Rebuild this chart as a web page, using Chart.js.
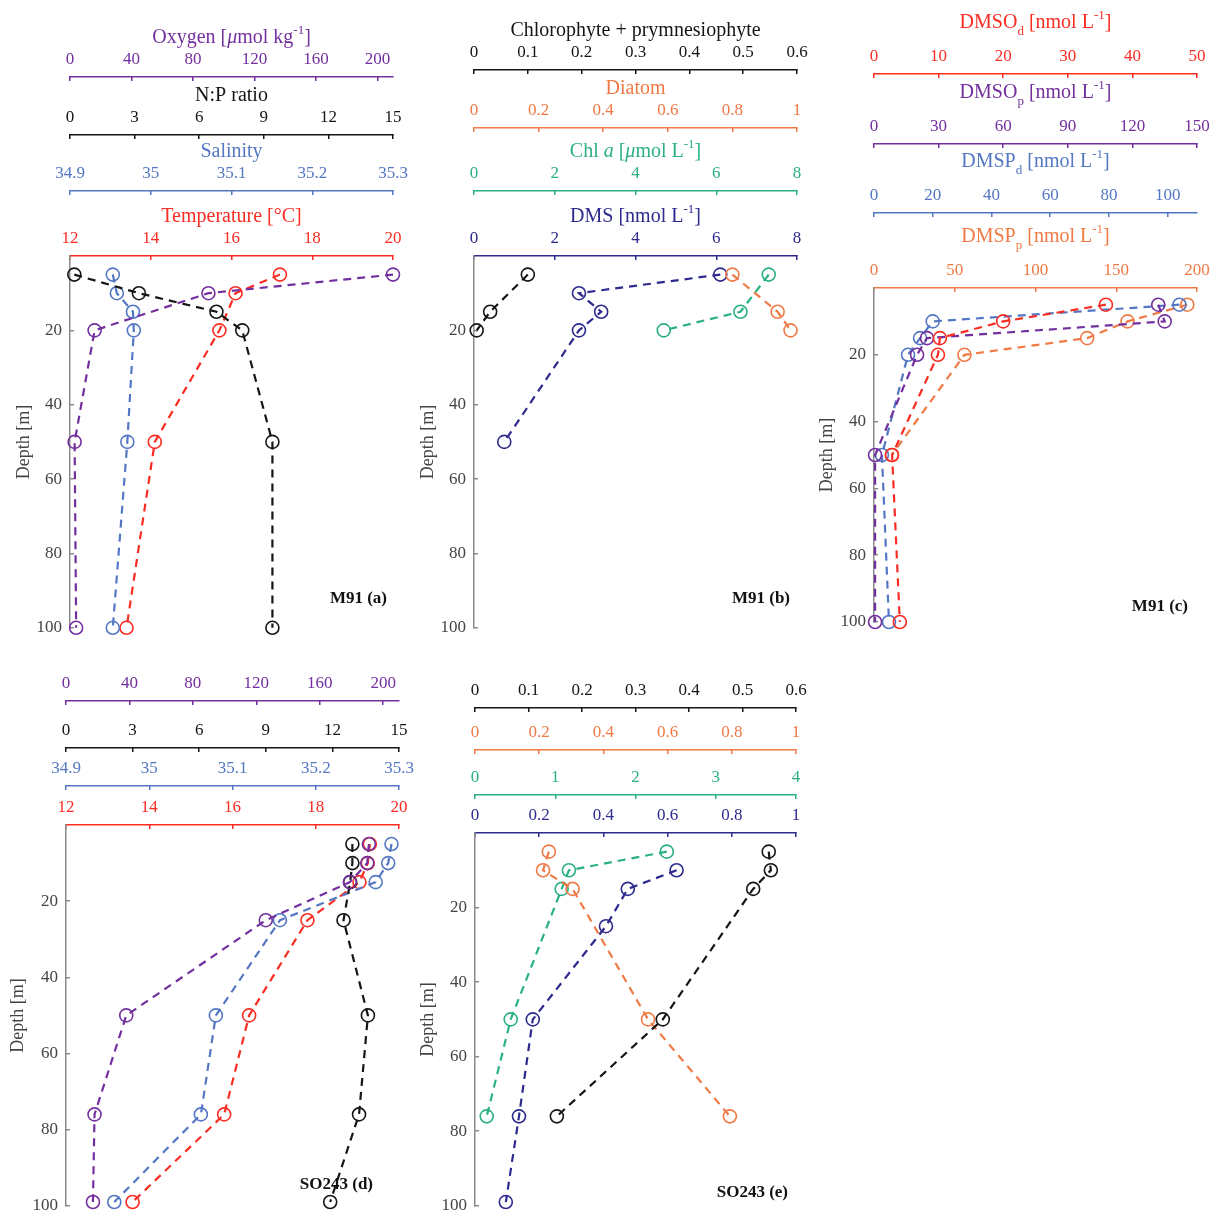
<!DOCTYPE html>
<html>
<head>
<meta charset="utf-8">
<script src="https://cdn.jsdelivr.net/npm/chart.js@4"></script>
<style>
html, body { margin: 0; padding: 0; background: #fff; }
#wrap { position: relative; width: 1227px; height: 1228px; overflow: hidden; }
canvas { position: absolute; }
</style>
</head>
<body>
<div id="wrap">
	<canvas id="pa" width="420" height="650" style="left:0;top:0"></canvas>
	<canvas id="pb" width="418" height="650" style="left:404px;top:0"></canvas>
	<canvas id="pc" width="421" height="650" style="left:804px;top:0"></canvas>
	<canvas id="pd" width="427" height="568" style="left:0;top:660px"></canvas>
	<canvas id="pe" width="416" height="568" style="left:405px;top:660px"></canvas>
</div>
<script>
// ---- data ----
const depthTicks = [20, 40, 60, 80, 100];

// M91 (a)
const depthA = [5, 10, 15, 20, 50, 100];
const depthA5 = [5, 10, 20, 50, 100];
const oxygenA = [210, 90, 16, 3, 4];
const npRatioA = [0.2, 3.2, 6.8, 8.0, 9.4, 9.4];
const salinityA = [34.953, 34.958, 34.978, 34.979, 34.971, 34.953];
const temperatureA = [17.2, 16.1, 15.7, 14.1, 13.4];

// M91 (b)
const depthB = [5, 15, 20];
const depthBdms = [5, 10, 15, 20, 50];
const chloroB = [0.10, 0.03, 0.005];
const diatomB = [0.80, 0.94, 0.98];
const chlaB = [7.3, 6.6, 4.7];
const dmsB = [6.1, 2.6, 3.15, 2.6, 0.75];

// M91 (c)
const depthC = [5, 10, 15, 20, 50, 100];
const depthCp = [5, 10, 15, 20, 50];
const dmsodC = [35.9, 20.0, 10.2, 9.9, 2.8, 4.0];
const dmsopC = [132, 135, 24.6, 20, 0.5, 0.5];
const dmspdC = [104, 20, 15.7, 11.6, 2.7, 5.1];
const dmsppC = [194, 157, 132, 56, 11];

// SO243 (d)
const depthD = [5, 10, 15, 25, 50, 76, 99];
const oxygenD = [191, 190, 179, 126, 38, 18, 17];
const npRatioD = [12.9, 12.9, 12.8, 12.5, 13.6, 13.2, 11.9];
const salinityD = [35.291, 35.287, 35.272, 35.157, 35.080, 35.062, 34.958];
const temperatureD = [19.3, 19.25, 19.05, 17.8, 16.4, 15.8, 13.6];

// SO243 (e)
const depthE = [5, 10, 15, 50, 76];
const depthEdms = [10, 15, 25, 50, 76, 99];
const chloroE = [0.549, 0.553, 0.52, 0.351, 0.153];
const diatomE = [0.23, 0.212, 0.304, 0.539, 0.794];
const chlaE = [2.39, 1.17, 1.08, 0.445, 0.146];
const dmsE = [0.628, 0.476, 0.408, 0.18, 0.137, 0.096];

// tick labels
const oxygenTicks = [0, 40, 80, 120, 160, 200];
const npTicks = [0, 3, 6, 9, 12, 15];
const salinityTicks = [34.9, 35, 35.1, 35.2, 35.3];
const temperatureTicks = [12, 14, 16, 18, 20];
const chloroTicks = [0, 0.1, 0.2, 0.3, 0.4, 0.5, 0.6];
const diatomTicks = [0, 0.2, 0.4, 0.6, 0.8, 1];
const chlaTicksB = [0, 2, 4, 6, 8];
const dmsTicksB = [0, 2, 4, 6, 8];
const chlaTicksE = [0, 1, 2, 3, 4];
const dmsTicksE = [0, 0.2, 0.4, 0.6, 0.8, 1];
const dmsodTicks = [0, 10, 20, 30, 40, 50];
const dmsopTicks = [0, 30, 60, 90, 120, 150];
const dmspdTicks = [0, 20, 40, 60, 80, 100];
const dmsppTicks = [0, 50, 100, 150, 200];

// ---- drawing ----
const serif = '"Liberation Serif", "Times New Roman", serif';
const purple = '#732f9e', black = '#151515', blue = '#5477c4', red = '#fa2d23',
	orange = '#ef7a45', green = '#2bb085', navy = '#2d2a8e', grey = '#8a8a8a';

function drawRich(ctx, str, cx, cy, size, color) {
	const parts = [];
	str.replace(/([\^_*])\{([^}]*)\}|([^\^_*]+)/g, (m, k, inner, plain) => {
		parts.push(plain !== undefined ? {t: plain, k: ''} : {t: inner, k: k});
		return m;
	});
	const fontOf = p => (p.k === '*' ? 'italic ' : '') +
		Math.round(p.k === '^' || p.k === '_' ? size * 0.65 : size) + 'px ' + serif;
	let w = 0;
	parts.forEach(p => { ctx.font = fontOf(p); w += ctx.measureText(p.t).width; });
	let x = cx - w / 2;
	ctx.fillStyle = color;
	ctx.textAlign = 'left';
	ctx.textBaseline = 'middle';
	parts.forEach(p => {
		ctx.font = fontOf(p);
		const dy = p.k === '^' ? -size * 0.36 : p.k === '_' ? size * 0.42 : 0;
		ctx.fillText(p.t, x, cy + dy);
		x += ctx.measureText(p.t).width;
	});
}

function topAxis(a, h, weight) {
	return {
		type: 'linear', position: 'top', min: a.min, max: a.max, weight: weight,
		afterBuildTicks: s => { s.ticks = a.ticks.map(v => ({value: v})); },
		afterFit: s => { s.height = h; },
		border: {color: a.color, width: 1.5},
		grid: {drawOnChartArea: false, color: a.color, lineWidth: 1.5, tickLength: -4},
		ticks: {
			color: a.color, font: {family: serif, size: 17}, padding: 11,
			maxRotation: 0, autoSkip: false,
			callback: v => String(+v.toFixed(3)),
		},
		title: {display: false},
	};
}

function depthAxis(w, pad) {
	return {
		type: 'linear', position: 'left', reverse: true, min: 0, max: 100,
		afterBuildTicks: s => { s.ticks = depthTicks.map(v => ({value: v})); },
		afterFit: s => { s.width = w; },
		border: {color: grey, width: 1.5},
		grid: {drawOnChartArea: false, color: grey, lineWidth: 1.5, tickLength: -4},
		ticks: {color: '#444', font: {family: serif, size: 17}, padding: 12, callback: v => v},
		title: {
			display: true, text: 'Depth [m]', color: '#444',
			font: {family: serif, size: 18}, padding: {top: pad, bottom: 0},
		},
	};
}

function series(xs, ys, color, axis) {
	return {
		data: xs.map((v, i) => ({x: v, y: ys[i]})),
		xAxisID: axis, yAxisID: 'y',
		showLine: true, borderColor: color, borderWidth: 2.2, borderDash: [8, 6],
		pointRadius: 6.5, pointBorderWidth: 1.6, pointBorderColor: color,
		pointBackgroundColor: 'rgba(0,0,0,0)', backgroundColor: 'rgba(0,0,0,0)',
		clip: false,
	};
}

function makeChart(id, cfg) {
	const scales = {};
	cfg.axes.forEach((a, i) => {
		scales[a.id] = topAxis(a, cfg.heights[i], cfg.axes.length - i);
	});
	scales.y = depthAxis(cfg.yWidth, cfg.yPad);

	const textPlugin = {
		id: 'panelText',
		afterDraw(chart) {
			const ctx = chart.ctx;
			ctx.save();
			cfg.axes.forEach(a => {
				if (!a.title) return;
				const s = chart.scales[a.id];
				drawRich(ctx, a.title, (s.left + s.right) / 2, s.bottom - cfg.dTitle, 20, a.color);
			});
			const area = chart.chartArea;
			ctx.font = 'bold 17px ' + serif;
			ctx.fillStyle = '#111';
			ctx.textAlign = 'right';
			ctx.textBaseline = 'middle';
			ctx.fillText(cfg.label, area.right - cfg.labelDx, area.bottom - cfg.labelDy);
			ctx.restore();
		},
	};

	new Chart(document.getElementById(id), {
		type: 'scatter',
		data: {datasets: cfg.series.map(s => series(s[0], s[1], s[2], s[3]))},
		options: {
			responsive: false,
			animation: false,
			layout: {padding: {left: 0, top: 0, right: cfg.padR, bottom: cfg.padB}},
			plugins: {legend: {display: false}, tooltip: {enabled: false}},
			scales: scales,
		},
		plugins: [textPlugin],
	});
}

window.addEventListener('load', e => {
	makeChart('pa', {
		axes: [
			{id: 'oxy', min: 0, max: 210, ticks: oxygenTicks, color: purple, title: 'Oxygen [*{μ}mol kg^{-1}]'},
			{id: 'np', min: 0, max: 15, ticks: npTicks, color: black, title: 'N:P ratio'},
			{id: 'sal', min: 34.9, max: 35.3, ticks: salinityTicks, color: blue, title: 'Salinity'},
			{id: 'temp', min: 12, max: 20, ticks: temperatureTicks, color: red, title: 'Temperature [°C]'},
		],
		heights: [77, 58, 56, 65], dTitle: 39.5,
		series: [
			[oxygenA, depthA5, purple, 'oxy'],
			[npRatioA, depthA, black, 'np'],
			[salinityA, depthA, blue, 'sal'],
			[temperatureA, depthA5, red, 'temp'],
		],
		yWidth: 70, yPad: 13, padR: 27, padB: 14,
		label: 'M91 (a)', labelDx: 6, labelDy: 29,
	});

	makeChart('pb', {
		axes: [
			{id: 'chl', min: 0, max: 0.6, ticks: chloroTicks, color: black, title: 'Chlorophyte + prymnesiophyte'},
			{id: 'dia', min: 0, max: 1, ticks: diatomTicks, color: orange, title: 'Diatom'},
			{id: 'cha', min: 0, max: 8, ticks: chlaTicksB, color: green, title: 'Chl *{a} [*{μ}mol L^{-1}]'},
			{id: 'dms', min: 0, max: 8, ticks: dmsTicksB, color: navy, title: 'DMS [nmol L^{-1}]'},
		],
		heights: [70, 58, 63, 65], dTitle: 39.5,
		series: [
			[chloroB, depthB, black, 'chl'],
			[diatomB, depthB, orange, 'dia'],
			[chlaB, depthB, green, 'cha'],
			[dmsB, depthBdms, navy, 'dms'],
		],
		yWidth: 70, yPad: 13, padR: 25, padB: 14,
		label: 'M91 (b)', labelDx: 7, labelDy: 29,
	});

	makeChart('pc', {
		axes: [
			{id: 'sod', min: 0, max: 50, ticks: dmsodTicks, color: red, title: 'DMSO_{d} [nmol L^{-1}]'},
			{id: 'sop', min: 0, max: 150, ticks: dmsopTicks, color: purple, title: 'DMSO_{p} [nmol L^{-1}]'},
			{id: 'spd', min: 0, max: 110, ticks: dmspdTicks, color: blue, title: 'DMSP_{d} [nmol L^{-1}]'},
			{id: 'spp', min: 0, max: 200, ticks: dmsppTicks, color: orange, title: 'DMSP_{p} [nmol L^{-1}]'},
		],
		heights: [74, 70, 69, 75], dTitle: 51,
		series: [
			[dmsodC, depthC, red, 'sod'],
			[dmsopC, depthC, purple, 'sop'],
			[dmspdC, depthC, blue, 'spd'],
			[dmsppC, depthCp, orange, 'spp'],
		],
		yWidth: 70, yPad: 12, padR: 28, padB: 28,
		label: 'M91 (c)', labelDx: 9, labelDy: 15,
	});

	makeChart('pd', {
		axes: [
			{id: 'oxy', min: 0, max: 210, ticks: oxygenTicks, color: purple},
			{id: 'np', min: 0, max: 15, ticks: npTicks, color: black},
			{id: 'sal', min: 34.9, max: 35.3, ticks: salinityTicks, color: blue},
			{id: 'temp', min: 12, max: 20, ticks: temperatureTicks, color: red},
		],
		heights: [41, 47, 38, 39], dTitle: 39.5,
		series: [
			[oxygenD, depthD, purple, 'oxy'],
			[npRatioD, depthD, black, 'np'],
			[salinityD, depthD, blue, 'sal'],
			[temperatureD, depthD, red, 'temp'],
		],
		yWidth: 66, yPad: 7, padR: 28, padB: 11,
		label: 'SO243 (d)', labelDx: 26, labelDy: 21,
	});

	makeChart('pe', {
		axes: [
			{id: 'chl', min: 0, max: 0.6, ticks: chloroTicks, color: black},
			{id: 'dia', min: 0, max: 1, ticks: diatomTicks, color: orange},
			{id: 'cha', min: 0, max: 4, ticks: chlaTicksE, color: green},
			{id: 'dms', min: 0, max: 1, ticks: dmsTicksE, color: navy},
		],
		heights: [48, 42, 45, 38], dTitle: 39.5,
		series: [
			[chloroE, depthE, black, 'chl'],
			[diatomE, depthE, orange, 'dia'],
			[chlaE, depthE, green, 'cha'],
			[dmsE, depthEdms, navy, 'dms'],
		],
		yWidth: 70, yPad: 12, padR: 25, padB: 19,
		label: 'SO243 (e)', labelDx: 8, labelDy: 13,
	});
});
</script>
</body>
</html>
